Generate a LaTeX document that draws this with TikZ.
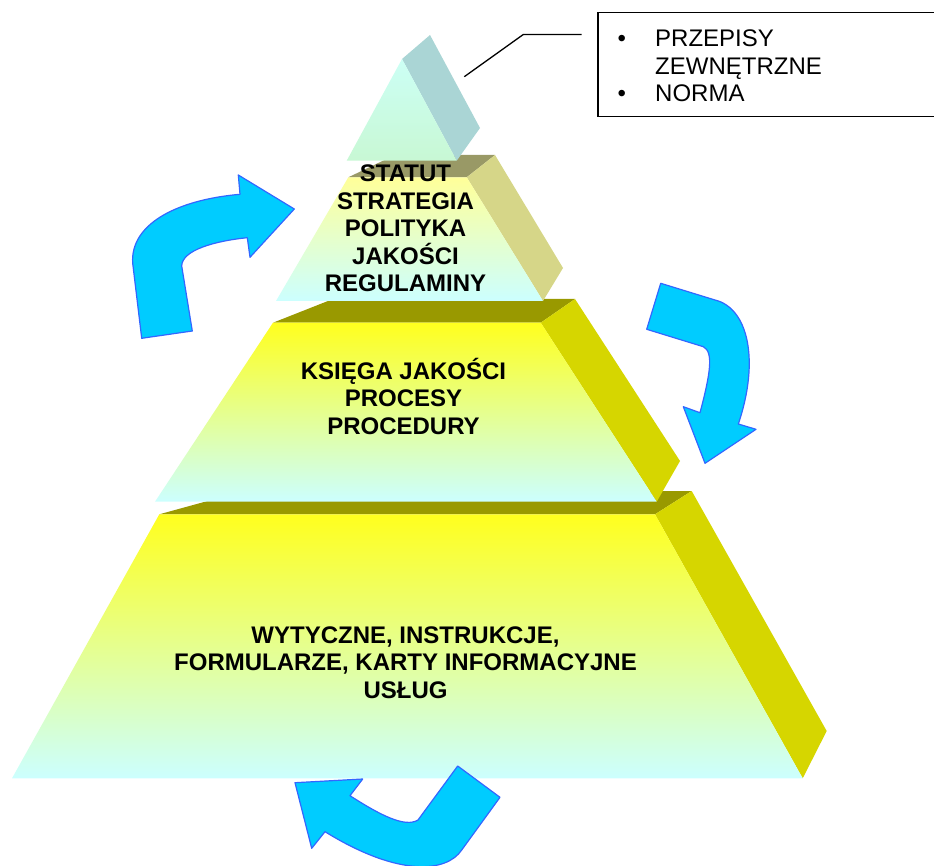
\documentclass[tikz,border=0pt]{standalone}
\usepackage{fontspec}
\setmainfont{Liberation Sans}
\definecolor{yel}{RGB}{255,255,30}
\definecolor{cya}{RGB}{204,255,255}
\definecolor{olivetop}{RGB}{153,153,0}
\definecolor{oliveside}{RGB}{214,214,0}
\definecolor{khakitop}{RGB}{153,153,102}
\definecolor{khakiside}{RGB}{214,214,136}
\definecolor{paleyel}{RGB}{255,255,153}
\definecolor{tealside}{RGB}{170,213,213}
\definecolor{mint}{RGB}{200,248,212}
\definecolor{aqua}{RGB}{204,255,245}
\definecolor{arrfill}{RGB}{0,204,255}
\definecolor{arrline}{RGB}{51,102,255}
\begin{document}
\begin{tikzpicture}[x=1pt,y=-1pt,
  lbl/.style={font=\bfseries\fontsize{24}{27.5}\selectfont, anchor=base, inner sep=0pt},
  boxtxt/.style={font=\fontsize{24}{27.5}\selectfont, anchor=base west, inner sep=0pt},
  bul/.style={font=\fontsize{24}{27.5}\selectfont, anchor=base, inner sep=0pt},
  cyc/.style={fill=arrfill, draw=arrline, line width=1.2pt, line join=round},
  callout/.style={draw=black, line width=1.2pt, anchor=north west, minimum width=420pt, minimum height=104pt, inner sep=0pt},
  leader/.style={draw=black, line width=1.3pt}
  ]
\useasboundingbox (0,0) rectangle (934,866);
\clip (0,0) rectangle (934,866);

% ---- tier 4 (bottom)
\fill[olivetop] (159.3,514.3) -- (244,491) -- (691.7,491) -- (655,514.3) -- cycle;
\fill[oliveside] (655,514.3) -- (691.7,491) -- (826.7,731) -- (802.7,778.3) -- cycle;
\shade[top color=yel, bottom color=cya] (159.3,514.3) -- (655,514.3) -- (802.7,778.3) -- (12,778.3) -- cycle;

% ---- tier 3
\fill[olivetop] (273,322.7) -- (333,299) -- (575,299) -- (540.7,322.7) -- cycle;
\fill[oliveside] (540.7,322.7) -- (575,299) -- (680,461) -- (656.7,501.7) -- cycle;
\shade[top color=yel, bottom color=cya] (273,322.7) -- (540.7,322.7) -- (656.7,501.7) -- (155,501.7) -- cycle;

% ---- tier 2
\fill[khakitop] (348.3,177.3) -- (395,155) -- (495,155) -- (466.7,177.3) -- cycle;
\fill[khakiside] (466.7,177.3) -- (495,155) -- (563,268) -- (543,301) -- cycle;
\shade[top color=paleyel, bottom color=cya] (348.3,177.3) -- (466.7,177.3) -- (543,301) -- (276,301) -- cycle;

% ---- top piece
\fill[tealside] (402,59) -- (430,35) -- (480,128) -- (456.7,160.7) -- cycle;
\shade[top color=aqua, bottom color=mint] (402,59) -- (456.7,160.7) -- (346.7,160.7) -- cycle;

% ---- labels
\node[lbl] (s1) at (405.5,181.7) {STATUT};
\node[lbl] (s2) at (405.5,209.2) {STRATEGIA};
\node[lbl] (s3) at (405.5,236.7) {POLITYKA};
\node[lbl] (s4) at (405.5,264.2) {JAKOŚCI};
\node[lbl] (s5) at (405.5,291.7) {REGULAMINY};

\node[lbl] (k1) at (403.5,379.3) {KSIĘGA JAKOŚCI};
\node[lbl] (k2) at (403.5,406.8) {PROCESY};
\node[lbl] (k3) at (403.5,434.3) {PROCEDURY};

\node[lbl] (w1) at (405.5,643.3) {WYTYCZNE, INSTRUKCJE,};
\node[lbl] (w2) at (405.5,670.8) {FORMULARZE, KARTY INFORMACYJNE};
\node[lbl] (w3) at (405.5,698.3) {USŁUG};

% ---- cycle arrows
\draw[cyc] (141.7,338.3) -- (132.7,263.3) .. controls (130,225) and (175,200) .. (240,194.3)
  -- (238.3,175) -- (294.3,209) -- (250,257.3) -- (247.3,237.7)
  .. controls (215,241) and (182,250) .. (181.7,266) -- (192.3,331) -- cycle;
\draw[cyc] (660.7,283.3) -- (715,300) .. controls (748,308) and (760,360) .. (738.3,424)
  -- (756,429.3) -- (705,463.3) -- (683.3,406.7) -- (700,412.7)
  .. controls (710,375) and (714,352) .. (703.3,346.7) -- (646.7,329.3) -- cycle;
\draw[cyc] (295,782.7) -- (362.7,779) -- (350,795.7)
  .. controls (380,815) and (405,828) .. (418,820) -- (457.7,766) -- (500,797.3) -- (461.7,850)
  .. controls (447,872) and (400,878) .. (325,831.7) -- (311.7,848.3) -- cycle;

% ---- callout
\node[callout] (box) at (597.3,11.7) {};
\node[bul] (b1) at (621.7,46.7) {•};
\node[boxtxt] (p1) at (655,46.7) {PRZEPISY};
\node[boxtxt] (p2) at (655,74.2) {ZEWNĘTRZNE};
\node[bul] (b2) at (621.7,101.7) {•};
\node[boxtxt] (p3) at (655,101.7) {NORMA};
\coordinate (ldA) at (464.3,76.7);
\coordinate (ldB) at (523.3,34.5);
\coordinate (ldC) at (581.7,34.5);
\draw[leader] (ldA) -- (ldB) -- (ldC);
\end{tikzpicture}
\end{document}
